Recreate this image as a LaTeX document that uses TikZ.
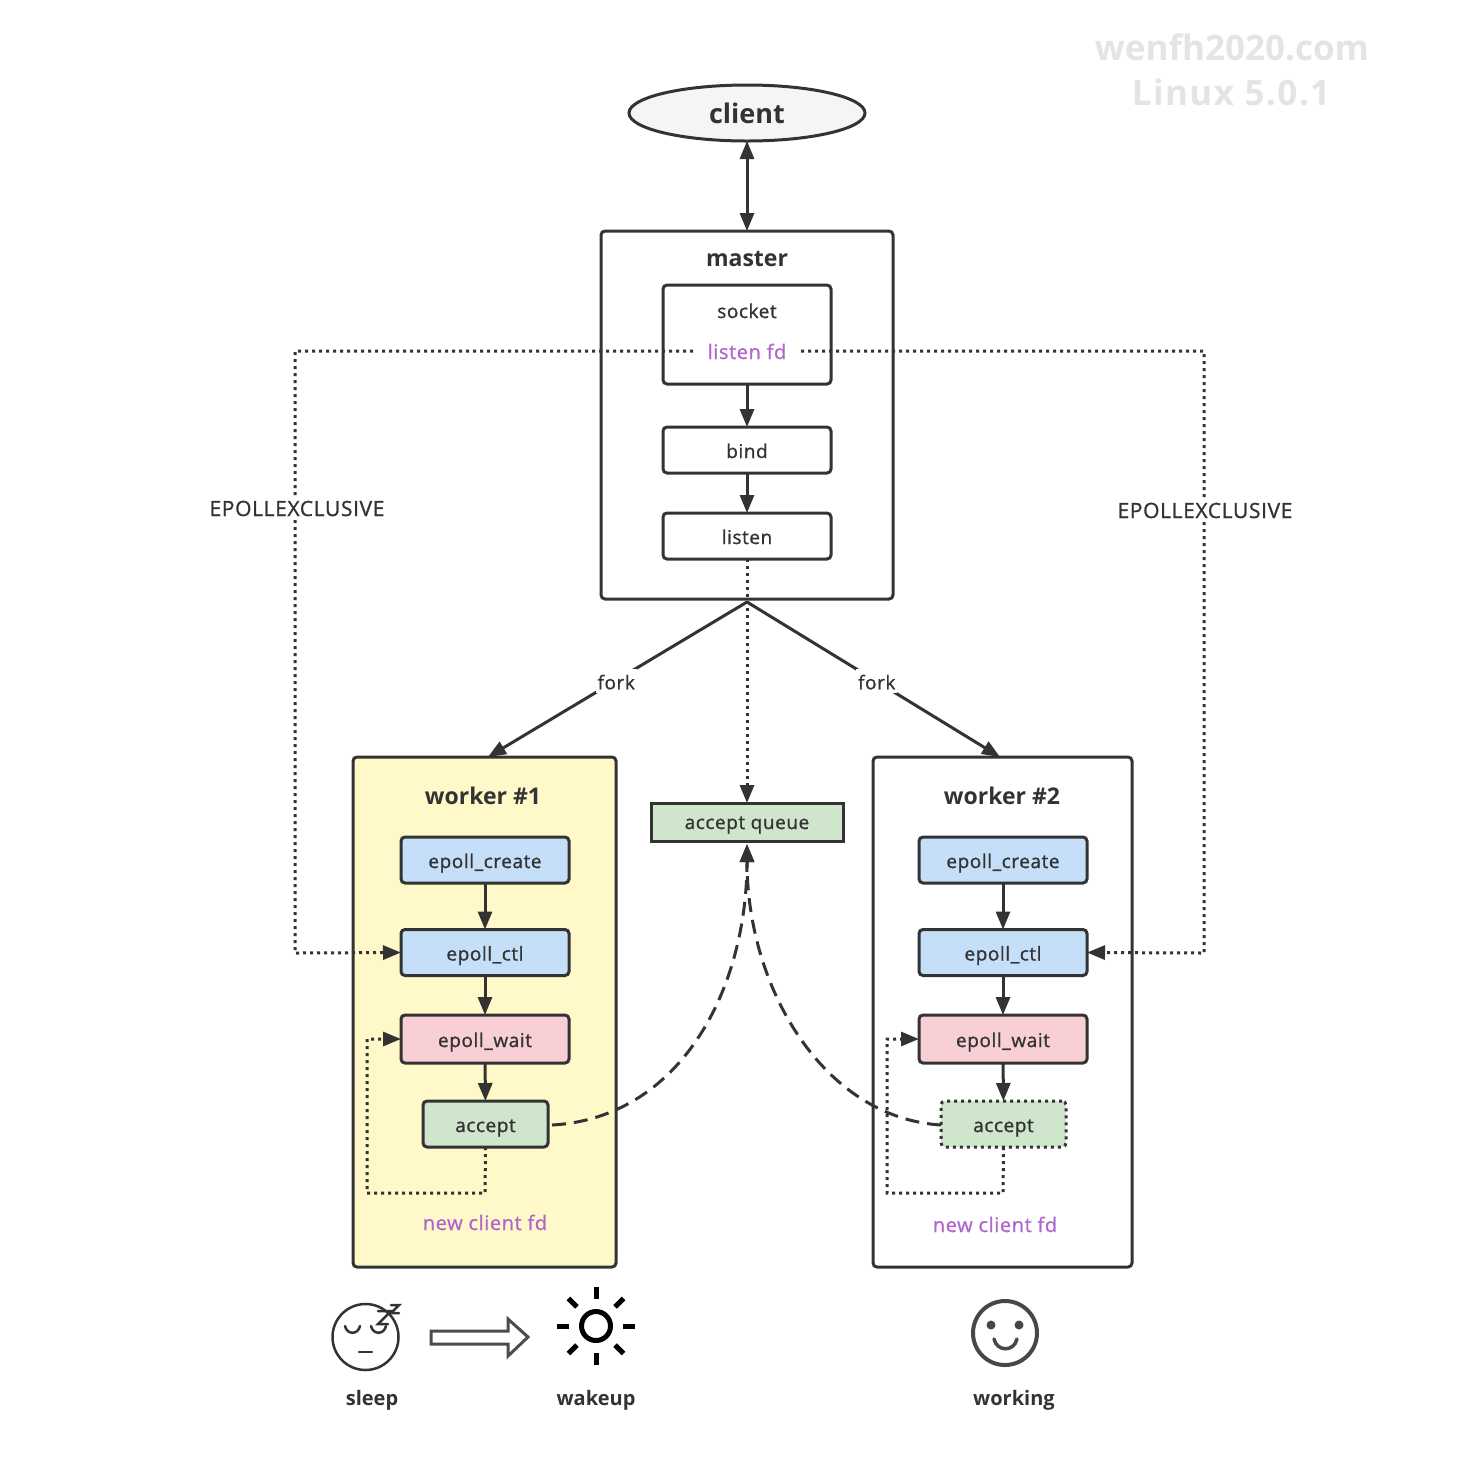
\documentclass[tikz,border=0pt]{standalone}
\usepackage{fontspec}
\setmainfont{Open Sans}
\newfontfamily\labfont{Open Sans}[FakeBold=1,LetterSpace=3]
\usetikzlibrary{arrows.meta,shapes.geometric,calc}
\definecolor{ink}{HTML}{333333}
\definecolor{wyellow}{HTML}{FFF8C9}
\definecolor{eblue}{HTML}{C5DFF9}
\definecolor{epink}{HTML}{F8CFD5}
\definecolor{egreen}{HTML}{CFE5CC}
\definecolor{fdpurple}{HTML}{B066CC}
\definecolor{wmark}{HTML}{E4E4E4}
\tikzset{
  x=1pt,y=-1pt,
  every node/.style={outer sep=0pt,inner sep=0pt,text=ink},
  tiny label/.style={font=\labfont\fontsize{19}{23}\selectfont,text height=18pt,text depth=2pt},
  caps label/.style={font=\labfont\fontsize{21}{25}\selectfont,text height=18pt,text depth=2pt},
  title label/.style={font=\fontsize{23}{27}\selectfont\bfseries},
  box/.style={draw=ink,line width=3pt,rounded corners=4pt,tiny label},
  procbox/.style={box,minimum width=168pt,minimum height=46pt},
  acceptbox/.style={box,minimum width=125pt,minimum height=46pt,fill=egreen},
  container/.style={draw=ink,line width=3pt,rounded corners=4pt},
  link/.style={draw=ink,line width=3pt,-{Triangle[length=18pt,width=14pt]}},
  dots/.style={link,dash pattern=on 3pt off 4pt},
  longdash/.style={link,dash pattern=on 14pt off 8pt},
  fdtext/.style={tiny label,font=\labfont\fontsize{20}{24}\selectfont,text=fdpurple},
  icon/.style={draw=ink,line width=2.5pt,line cap=round},
  softicon/.style={draw=black!72,line width=4pt,line cap=round},
  caption label/.style={font=\fontsize{20}{24}\selectfont\bfseries},
  stamp/.style={text=wmark,font=\fontsize{35}{40}\selectfont\bfseries},
}
\begin{document}
\begin{tikzpicture}
\useasboundingbox (0,0) rectangle (1482,1460);
\fill[white] (0,0) rectangle (1482,1460);
% watermark
\node[stamp] (wm1) at (1232,47) {wenfh2020.com};
\node[stamp] (wm2) at (1231,92) {\addfontfeature{LetterSpace=4}Linux 5.0.1};
% containers
\node[container,minimum width=292pt,minimum height=368pt] (master) at (747,415) {};
\node[container,fill=wyellow,minimum width=263pt,minimum height=510pt] (w1) at (484.5,1012) {};
\node[container,minimum width=259pt,minimum height=510pt] (w2) at (1002.5,1012) {};
% client
\node[ellipse,draw=ink,line width=3pt,fill=black!4,minimum width=236pt,minimum height=56pt,font=\fontsize{27}{31}\selectfont\bfseries] (client) at (747,113) {client};
% titles
\node[title label] (tmaster) at (747,259) {master};
\node[title label] (tw1) at (483,796) {worker \#1};
\node[title label] (tw2) at (1002,796) {worker \#2};
% master boxes
\node[procbox,minimum height=99pt] (socket) at (747,334.5) {};
\node[tiny label] (socktext) at (747,310) {socket};
\node[procbox] (bind) at (747,450) {bind};
\node[procbox] (listen) at (747,536) {listen};
% queue
\node[draw=ink,line width=3pt,fill=egreen,minimum width=192pt,minimum height=38pt,tiny label,text height=16pt,text depth=2pt] (queue) at (747,822) {accept queue};
% worker 1
\node[procbox,fill=eblue] (c1) at (485,860) {epoll\_create};
\node[procbox,fill=eblue] (ctl1) at (485,952.5) {epoll\_ctl};
\node[procbox,fill=epink,minimum height=48pt] (wait1) at (485,1039) {epoll\_wait};
\node[acceptbox] (acc1) at (485.5,1124) {accept};
\node[fdtext] (nfd1) at (485,1222) {new client fd};
% worker 2
\node[procbox,fill=eblue] (c2) at (1003,860) {epoll\_create};
\node[procbox,fill=eblue] (ctl2) at (1003,952.5) {epoll\_ctl};
\node[procbox,fill=epink,minimum height=48pt] (wait2) at (1003,1039) {epoll\_wait};
\node[acceptbox,dash pattern=on 3pt off 4pt] (acc2) at (1003.5,1124) {accept};
\node[fdtext] (nfd2) at (995,1224) {new client fd};
% solid links
\draw[link,{Triangle[length=18pt,width=14pt]}-{Triangle[length=18pt,width=14pt]}] (client) -- (master);
\draw[link] (socket) -- (bind);
\draw[link] (bind) -- (listen);
\draw[link] (c1) -- (ctl1);
\draw[link] (ctl1) -- (wait1);
\draw[link] (wait1) -- (acc1);
\draw[link] (c2) -- (ctl2);
\draw[link] (ctl2) -- (wait2);
\draw[link] (wait2) -- (acc2);
% fork
\coordinate (apex) at (747,602);
\coordinate (w1top) at (488,757);
\coordinate (w2top) at (1000,757);
\draw[link] (apex) -- (w1top) node[pos=0.505,fill=white,inner sep=2pt,tiny label,yshift=-1pt] (f1) {fork};
\draw[link] (apex) -- (w2top) node[pos=0.505,fill=white,inner sep=2pt,tiny label,yshift=-1pt,xshift=2pt] (f2) {fork};
% listen fd + long dotted
\node[fdtext,minimum width=108pt] (lfd) at (747,351) {listen fd};
\coordinate (lcorner) at (295,351);
\coordinate (lbot) at (295,953);
\coordinate (rcorner) at (1204,351);
\coordinate (rbot) at (1204,953);
\draw[dots] (lfd.west) -- (lcorner) -- (lbot) -- (ctl1.west);
\draw[dots] (lfd.east) -- (rcorner) -- (rbot) -- (ctl2.east);
\node[fill=white,inner xsep=1pt,inner ysep=0pt,caps label] (ex1) at (297,508) {EPOLLEXCLUSIVE};
\node[fill=white,inner xsep=1pt,inner ysep=0pt,caps label] (ex2) at (1205,510) {EPOLLEXCLUSIVE};
\draw[dots] (listen) -- (queue);
% loops
\coordinate (l1a) at (485,1193);
\coordinate (l1b) at (367,1193);
\coordinate (l1c) at (367,1039);
\draw[dots] (acc1.south) -- (l1a) -- (l1b) -- (l1c) -- (wait1.west);
\coordinate (l2a) at (1003,1193);
\coordinate (l2b) at (887,1193);
\coordinate (l2c) at (887,1039);
\draw[dots] (acc2.south) -- (l2a) -- (l2b) -- (l2c) -- (wait2.west);
% curves
\coordinate (qin) at (747,844);
\draw[longdash] (acc1.east) ++(4,1) .. controls (680,1118) and (747,990) .. (qin);
\draw[longdash] (acc2.west) ++(0,1) .. controls (825,1118) and (747,990) .. (qin);
% sleep icon
\draw[icon] (365.5,1337) circle (33);
\draw[icon] (345,1326) .. controls (347,1335) and (358,1335) .. (360,1326);
\draw[icon] (371,1326) .. controls (373,1335) and (384,1335) .. (386,1326);
\draw[icon] (359,1352) -- (372,1352);
\draw[icon] (378,1311) -- (391,1311) -- (378,1324) -- (388,1324);
\draw[icon] (391,1305) -- (399,1305) -- (391,1313) -- (399,1313);
\draw[draw=black!70,line width=3pt,line join=miter] (431,1331) -- (508,1331) -- (508,1319) -- (528,1337) -- (508,1356) -- (508,1344) -- (431,1344) -- cycle;
% sun
\draw[black,line width=5pt] (596,1326) circle (14.5);
\foreach \a in {0,45,...,315}
  \draw[black,line width=5pt] ($(596,1326)+(\a:27)$) -- ($(596,1326)+(\a:39)$);
% smile
\draw[softicon] (1005,1333) circle (32);
\fill[black!72] (991,1325) circle (4.5);
\fill[black!72] (1019,1325) circle (4.5);
\draw[softicon,line width=3.5pt] (994,1339) .. controls (997,1352) and (1014,1352) .. (1017,1339);
% captions
\node[caption label] (sleep) at (372,1400) {sleep};
\node[caption label] (wakeup) at (596,1400) {wakeup};
\node[caption label] (working) at (1014,1400) {working};
\end{tikzpicture}
\end{document}
